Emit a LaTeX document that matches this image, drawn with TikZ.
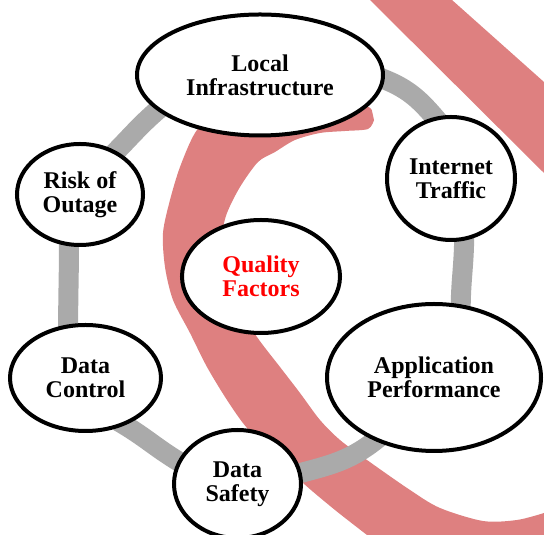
\documentclass[tikz,border=0pt]{standalone}
\usepackage{fontspec}
\setmainfont{Liberation Serif}
\usetikzlibrary{shapes.geometric}
\definecolor{swooshred}{RGB}{222,128,128}
\definecolor{ringgray}{RGB}{170,170,170}
\pgfdeclarelayer{background}
\pgfsetlayers{background,main}
\tikzset{
    factor/.style={ellipse, draw=black, line width=4pt, fill=white,
        inner sep=0pt, align=center,
        font=\bfseries\fontsize{24}{24}\selectfont},
    ring/.style={draw=ringgray, line width=20pt,
        shorten <=-8pt, shorten >=-8pt},
    swoosh/.style={fill=swooshred}
}

\begin{document}
\begin{tikzpicture}[x=1pt, y=1pt]
        \useasboundingbox (0,0) rectangle (544,535);

        % factors round the ring
        \node[factor, minimum width=246, minimum height=121] (local) at (260,460) {Local\\Infrastructure};
        \node[factor, minimum width=128, minimum height=123] (traffic) at (451,356.5) {Internet\\Traffic};
        \node[factor, minimum width=214, minimum height=147] (perf) at (434,157.5) {Application\\Performance};
        \node[factor, minimum width=127, minimum height=108] (safety) at (237.5,51) {Data\\Safety};
        \node[factor, minimum width=151, minimum height=106] (control) at (85.5,157) {Data\\Control};
        \node[factor, minimum width=126, minimum height=101] (outage) at (80,340.5) {Risk of\\Outage};
        \node[factor, minimum width=158, minimum height=113, text=red] (quality) at (261,258.5) {Quality\\Factors};

        \begin{pgfonlayer}{background}
            % swoosh behind the ring
            \fill[swoosh] (370,535) -- (452,535) -- (544,453) -- (544,362) -- cycle;
            \fill[swoosh] plot[smooth, tension=0.5] coordinates {
                    (374,415) (368,406) (345,404) (320,402) (295,395) (275,383)
                    (258,373) (240,348) (227,322) (222,300) (223,275) (233,236)
                    (257,198) (280,168) (300,142) (320,115) (340,95) (367,75)
                    (410,45) (440,27) (483,14) (517,15) (544,22)}
                -- (544,0) -- (367,0)
                -- plot[smooth, tension=0.5] coordinates {
                    (367,0) (335,25) (303,52) (275,80) (247,107) (227,135)
                    (207,168) (190,202) (173,235) (165,268) (163,302) (170,335)
                    (180,368) (195,402) (215,423) (260,435) (330,435) (366,429)
                    (372,424)}
                -- cycle;

            % the ring
            \draw[ring] (local.-2) to[out=-20, in=130] (traffic.105);
            \draw[ring] (traffic.-78) to[out=-90, in=90] (perf.70);
            \draw[ring] (perf.-133) to[out=-140, in=15] (safety.10);
            \draw[ring] (safety.159) to[out=150, in=-30] (control.-50);
            \draw[ring] (control.108) to[out=90, in=-90] (outage.-102);
            \draw[ring] (outage.50) to[out=45, in=-140] (local.-161);
        \end{pgfonlayer}
    \end{tikzpicture}
\end{document}
